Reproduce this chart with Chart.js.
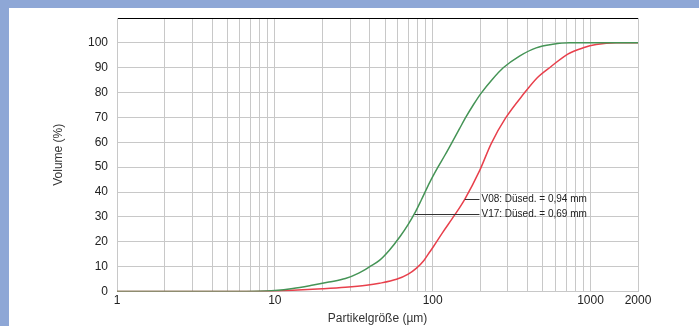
<!DOCTYPE html>
<html>
<head>
<meta charset="utf-8">
<script src="https://cdn.jsdelivr.net/npm/chart.js@4/dist/chart.umd.min.js"></script>
<style>
  html, body { margin: 0; padding: 0; background: #8ea7d6; }
  .frame { position: absolute; left: 9px; top: 8px; width: 690px; height: 318px; background: #fff; }
</style>
</head>
<body>
<div class="frame"><canvas id="chart" width="690" height="318"></canvas></div>
<script>
// data ------------------------------
const greenSizes = [1, 5, 8, 10, 13, 17.5, 22, 28, 34, 40, 46, 53, 62, 70, 77, 85, 96, 108, 120, 134, 148, 163, 182, 203, 240, 280, 355, 453, 577, 736, 2000];
const greenVolumes = [0, 0, 0.1, 0.4, 1.2, 2.6, 3.8, 5.2, 7.4, 10, 12.5, 16.5, 22, 27, 31.5, 37, 44, 50, 55, 60.5, 65.5, 70.3, 75.3, 79.8, 85.5, 90, 94.7, 98, 99.4, 100, 100];

const redSizes = [1, 5, 10, 14, 20, 28, 38, 46, 59, 70, 79, 88, 96, 101, 115, 138, 160, 198, 235, 290, 382, 460, 563, 718, 900, 1086, 1453, 2000];
const redVolumes = [0, 0, 0.2, 0.6, 1.1, 1.7, 2.5, 3.3, 4.9, 7, 9.4, 12.5, 16, 18, 23.5, 30.8, 37.2, 48.5, 59.5, 69.8, 79.9, 86, 90.5, 95.5, 98, 99.3, 100, 100];

const xTickValues = [1, 2, 3, 4, 5, 6, 7, 8, 9, 10, 20, 30, 40, 50, 60, 70, 80, 90, 100, 200, 300, 400, 500, 600, 700, 800, 900, 1000, 2000];
const xTickLabels = [1, 10, 100, 1000, 2000];

// annotation texts + anchors (data space)
const noteTexts = ['V08: Düsed. = 0,94 mm', 'V17: Düsed. = 0,69 mm'];
const noteStartX = [160, 77];
const noteY = [37.2, 31.1];
const noteEndX = 198;

const toPoints = (xs, ys) => xs.map((x, i) => ({ x, y: ys[i] }));

const notesPlugin = {
  id: 'notes',
  afterDatasetsDraw(chart) {
    const { ctx, scales: { x, y } } = chart;
    ctx.save();
    ctx.strokeStyle = '#333';
    ctx.lineWidth = 1;
    ctx.fillStyle = '#222';
    ctx.font = '10px "Liberation Sans", Arial, sans-serif';
    ctx.textBaseline = 'middle';
    noteTexts.forEach((text, i) => {
      const py = Math.round(y.getPixelForValue(noteY[i])) + 0.5;
      const x0 = x.getPixelForValue(noteStartX[i]);
      const x1 = x.getPixelForValue(noteEndX);
      ctx.beginPath();
      ctx.moveTo(x0, py);
      ctx.lineTo(x1, py);
      ctx.stroke();
      ctx.fillText(text, x1 + 2, py);
    });
    ctx.restore();
  },
};

const gridGray = '#c8c8c8';
const font = { family: '"Liberation Sans", Arial, sans-serif', size: 12 };

new Chart(document.getElementById('chart'), {
  type: 'line',
  data: {
    datasets: [
      {
        label: 'V17',
        data: toPoints(greenSizes, greenVolumes),
        borderColor: '#459456',
        borderWidth: 1.5,
        pointRadius: 0,
        cubicInterpolationMode: 'monotone',
      },
      {
        label: 'V08',
        data: toPoints(redSizes, redVolumes),
        borderColor: '#e8404c',
        borderWidth: 1.5,
        pointRadius: 0,
        cubicInterpolationMode: 'monotone',
      },
    ],
  },
  options: {
    responsive: false,
    animation: false,
    layout: { padding: { top: 10, right: 61, bottom: 0, left: 0 } },
    plugins: { legend: { display: false }, tooltip: { enabled: false } },
    scales: {
      x: {
        type: 'logarithmic',
        min: 1,
        max: 2000,
        afterBuildTicks(scale) {
          scale.ticks = xTickValues.map(value => ({ value }));
        },
        afterFit(scale) {
          scale.height = 34.5;
        },
        ticks: {
          autoSkip: false,
          maxRotation: 0,
          padding: 2,
          color: '#222',
          font,
          callback(value) {
            return xTickLabels.includes(value) ? String(value) : '';
          },
        },
        grid: { color: gridGray, drawTicks: false },
        border: { color: gridGray },
        title: {
          display: true,
          text: 'Partikelgröße (µm)',
          color: '#333',
          font,
          padding: { top: 0, bottom: 0 },
        },
      },
      y: {
        min: 0,
        max: 110,
        afterFit(scale) {
          scale.width = 108;
          scale.paddingTop = 0;
          scale.paddingBottom = 0;
        },
        ticks: {
          stepSize: 10,
          padding: 9,
          color: '#222',
          font,
          callback(value) {
            return value === 110 ? '' : value;
          },
        },
        grid: {
          drawTicks: false,
          color: c => (c.tick && c.tick.value === 110 ? '#000' : gridGray),
        },
        border: { color: gridGray },
        title: {
          display: true,
          text: 'Volume (%)',
          color: '#333',
          font,
          padding: { top: 42, bottom: 0 },
        },
      },
    },
  },
  plugins: [notesPlugin],
});
</script>
</body>
</html>
